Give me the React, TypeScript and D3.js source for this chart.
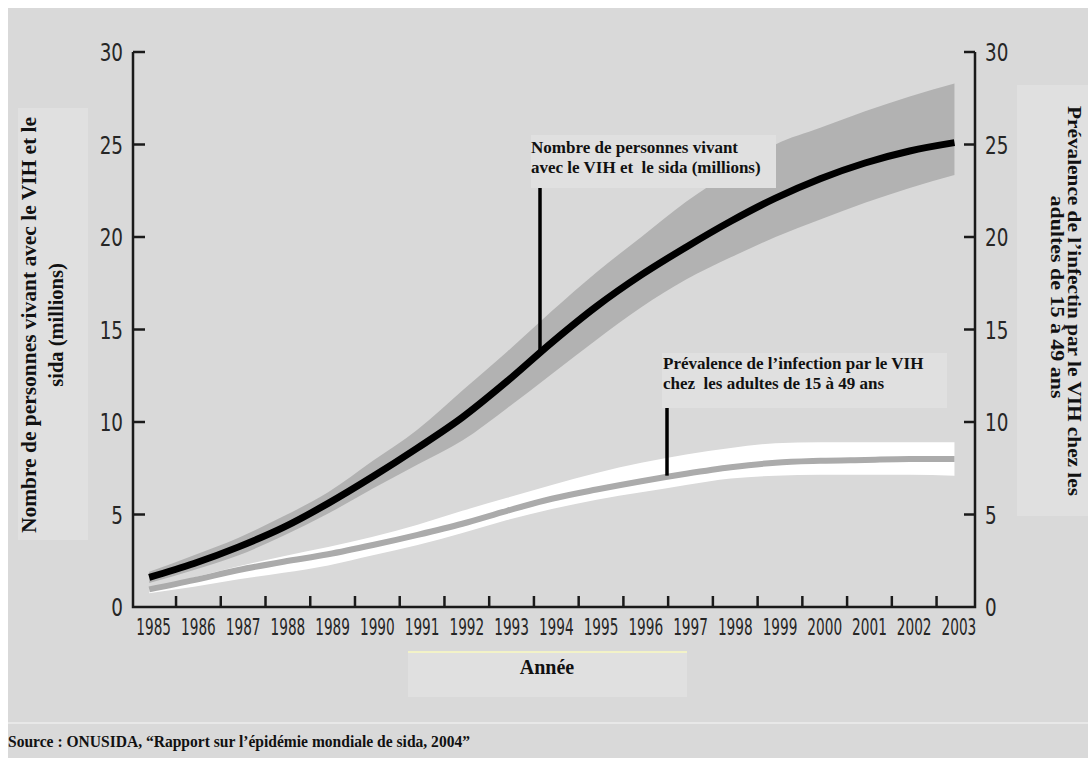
import React from 'react'
import * as d3 from 'd3'

// years (points are plotted a little after the start of each year)
const years = [1985, 1986, 1987, 1988, 1989, 1990, 1991, 1992, 1993, 1994, 1995, 1996, 1997, 1998, 1999, 2000, 2001, 2002, 2003]

// people living with HIV (millions) + range
const peopleMid = [1.6, 2.35, 3.25, 4.3, 5.6, 7.05, 8.6, 10.25, 12.2, 14.3, 16.25, 17.95, 19.45, 20.85, 22.1, 23.15, 24.0, 24.65, 25.1]
const peopleHigh = [1.9, 2.8, 3.75, 4.9, 6.2, 7.9, 9.6, 11.7, 13.8, 16.0, 18.1, 20.0, 21.9, 23.5, 25.0, 25.9, 26.8, 27.6, 28.3]
const peopleLow = [1.3, 2.0, 2.8, 3.85, 5.05, 6.4, 7.7, 9.0, 10.75, 12.6, 14.45, 16.2, 17.7, 18.9, 20.0, 20.95, 21.85, 22.65, 23.35]

// adult prevalence (%) + range
const prevMid = [0.95, 1.45, 2.0, 2.45, 2.85, 3.35, 3.9, 4.5, 5.2, 5.85, 6.35, 6.8, 7.2, 7.55, 7.8, 7.9, 7.95, 8.0, 8.0]
const prevHigh = [1.0, 1.6, 2.2, 2.75, 3.25, 3.8, 4.45, 5.2, 5.9, 6.6, 7.25, 7.8, 8.25, 8.6, 8.85, 8.9, 8.9, 8.9, 8.9]
const prevLow = [0.75, 1.1, 1.5, 1.85, 2.25, 2.8, 3.35, 4.0, 4.7, 5.3, 5.8, 6.2, 6.6, 6.95, 7.1, 7.15, 7.15, 7.15, 7.1]

const yTicks = [0, 5, 10, 15, 20, 25, 30]
const yearTicks = d3.range(1986, 2004)

const serif = "'Liberation Serif', 'Times New Roman', serif"
const narrow = "'DejaVu Sans Condensed', sans-serif"

export default function App() {
  const width = 1088
  const height = 758

  const x = d3.scaleLinear().domain([1985, 2004]).range([131.3, 981.3])
  const y = d3.scaleLinear().domain([0, 30]).range([607, 52])
  const left = 133
  const right = 975
  const bottom = y(0)

  const pt = (i: number) => x(years[i] + 0.4)

  const band = (lo: number[], hi: number[]) =>
    d3.area<number>()
      .x((d, i) => pt(i))
      .y0((d, i) => y(lo[i]))
      .y1((d, i) => y(hi[i]))
      .curve(d3.curveMonotoneX)(years)

  const line = (vals: number[]) =>
    d3.line<number>()
      .x((d, i) => pt(i))
      .y((d) => y(d))
      .curve(d3.curveMonotoneX)(vals)

  return (
    <svg width={width} height={height} style={{ position: 'absolute', left: 0, top: 0, display: 'block' }}>
      <rect x={8} y={8} width={width - 8} height={height - 8} fill="#d9d9d9" />
      <line x1={8} x2={width} y1={723} y2={723} stroke="#ececec" strokeWidth={1.5} />

      {/* bands and lines */}
      <path d={band(peopleLow, peopleHigh) || ''} fill="#b2b2b2" />
      <path d={band(prevLow, prevHigh) || ''} fill="#ffffff" />
      <path d={line(prevMid) || ''} fill="none" stroke="#ababab" strokeWidth={6} />
      <path d={line(peopleMid) || ''} fill="none" stroke="#000" strokeWidth={7} />

      {/* axes */}
      <g stroke="#1a1a1a" strokeWidth={2.5} fill="none">
        <path d={`M${left},${y(30)}V${bottom}H${right}V${y(30)}`} strokeLinejoin="miter" />
        {yTicks.filter(t => t > 0).map(t => (
          <g key={t}>
            <line x1={left} x2={left + 12} y1={y(t)} y2={y(t)} />
            <line x1={right - 11} x2={right} y1={y(t)} y2={y(t)} />
          </g>
        ))}
        {yearTicks.map(t => (
          <line key={t} x1={x(t)} x2={x(t)} y1={bottom} y2={bottom - 11} />
        ))}
      </g>
      <g fontFamily={narrow} fontSize={24} fill="#262626">
        {yTicks.map(t => (
          <g key={t}>
            <text transform={`translate(123,${y(t) + 9}) scale(0.85,1)`} textAnchor="end">{t}</text>
            <text transform={`translate(985,${y(t) + 9}) scale(0.85,1)`}>{t}</text>
          </g>
        ))}
        {years.map(yr => (
          <text key={yr} transform={`translate(${x(yr + 0.5)},635) scale(0.66,1)`}
            textAnchor="middle" fontSize={23}>{yr}</text>
        ))}
      </g>

      {/* annotations */}
      <rect x={531} y={135} width={245} height={53} fill="#e0e0e0" />
      <g fontFamily={serif} fontWeight="bold" fontSize={17} fill="#111">
        <text x={531} y={153}>Nombre de personnes vivant</text>
        <text x={531} y={173} style={{ whiteSpace: 'pre' }}>avec le VIH et  le sida (millions)</text>
      </g>
      <line x1={540} x2={540} y1={188} y2={y(13.7)} stroke="#000" strokeWidth={3.5} />

      <rect x={662} y={353} width={285} height={55} fill="#e0e0e0" />
      <g fontFamily={serif} fontWeight="bold" fontSize={17} fill="#111">
        <text x={663} y={369}>Prévalence de l’infection par le VIH</text>
        <text x={663} y={389} style={{ whiteSpace: 'pre' }}>chez  les adultes de 15 à 49 ans</text>
      </g>
      <line x1={667} x2={667} y1={408} y2={y(7.1)} stroke="#000" strokeWidth={3.5} />

      {/* axis titles */}
      <rect x={18} y={108} width={70} height={432} fill="#e0e0e0" />
      <g fontFamily={serif} fontWeight="bold" fontSize={20.5} fill="#111" textAnchor="middle">
        <text transform="translate(36,325) rotate(-90)" textLength={416} lengthAdjust="spacingAndGlyphs">
          Nombre de personnes vivant avec le VIH et le
        </text>
        <text transform="translate(63,325) rotate(-90)">sida (millions)</text>
      </g>

      <rect x={1017} y={85} width={71} height={431} fill="#e0e0e0" />
      <g fontFamily={serif} fontWeight="bold" fontSize={19} fill="#111" textAnchor="middle">
        <text transform="translate(1068,301) rotate(90)" textLength={390} lengthAdjust="spacingAndGlyphs">
          Prévalence de l’infectin par le VIH chez les
        </text>
        <text transform="translate(1051,297) rotate(90)" textLength={203} lengthAdjust="spacingAndGlyphs">
          adultes de 15 à 49 ans
        </text>
      </g>

      <rect x={408} y={652} width={279} height={45} fill="#e0e0e0" />
      <line x1={408} x2={687} y1={652} y2={652} stroke="#fafac0" strokeWidth={1.5} />
      <text x={547} y={674} textAnchor="middle" fontFamily={serif} fontWeight="bold" fontSize={20} fill="#111">Année</text>

      <text x={8} y={747} fontFamily={serif} fontWeight="bold" fontSize={17.5} fill="#111"
        textLength={462} lengthAdjust="spacingAndGlyphs">
        Source : ONUSIDA, “Rapport sur l’épidémie mondiale de sida, 2004”
      </text>
    </svg>
  )
}
